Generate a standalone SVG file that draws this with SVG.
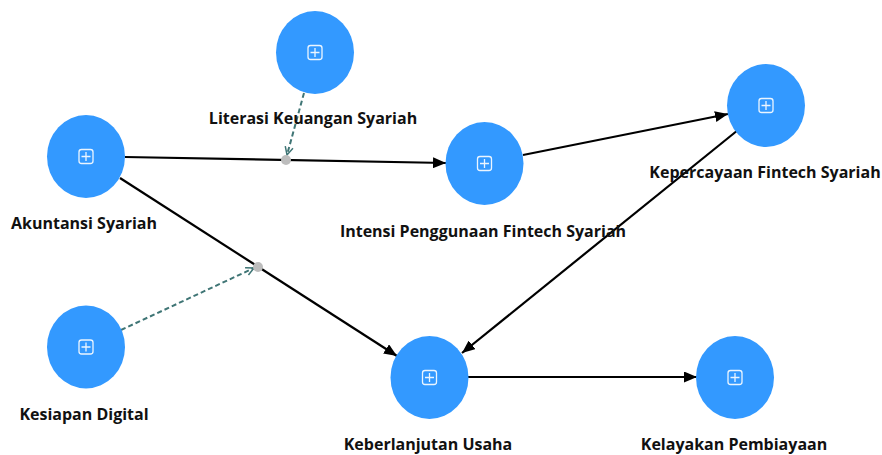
<svg xmlns="http://www.w3.org/2000/svg" width="882" height="455" viewBox="0 0 882 455">
<style>
.node ellipse{fill:#3399ff}
.icon{fill:none;stroke:#fff;stroke-width:1.3;opacity:0.9}
.lbl{font-family:"Open Sans","Noto Sans","DejaVu Sans",sans-serif;font-weight:bold;font-size:16px;fill:#111;text-anchor:middle}
.edge{stroke:#000;stroke-width:2.2;fill:none}
.mod{stroke:#3f7575;stroke-width:2;fill:none;stroke-dasharray:5 3}
.dot{fill:#bdbdbd}
</style>
<defs>
<marker id="ah" viewBox="0 0 13 11" refX="13" refY="5.5" markerWidth="13" markerHeight="11" markerUnits="userSpaceOnUse" orient="auto">
<path d="M0,0 L13,5.5 L0,11 Z" fill="#000"/>
</marker>
<marker id="oh" viewBox="0 0 10 10" refX="9" refY="5" markerWidth="10" markerHeight="10" markerUnits="userSpaceOnUse" orient="auto">
<path d="M1,1 L9,5 L1,9" fill="none" stroke="#3f7575" stroke-width="1.5"/>
</marker>
<g id="ic"><rect x="-7" y="-7" width="14" height="14" rx="2.5" class="icon"/><path d="M0,-4.5V4.5M-4.5,0H4.5" class="icon"/></g>
</defs>
<g id="connectors">
<line class="edge" x1="125" y1="157" x2="446" y2="163" marker-end="url(#ah)"/>
<line class="edge" x1="120" y1="178" x2="397" y2="356" marker-end="url(#ah)"/>
<line class="edge" x1="523" y1="155" x2="728" y2="114" marker-end="url(#ah)"/>
<line class="edge" x1="738" y1="130" x2="462" y2="353" marker-end="url(#ah)"/>
<line class="edge" x1="468" y1="377" x2="697" y2="377" marker-end="url(#ah)"/>
<line class="mod" x1="304" y1="93" x2="287" y2="155" marker-end="url(#oh)"/>
<line class="mod" x1="121" y1="330" x2="254" y2="268" marker-end="url(#oh)"/>
<circle class="dot" cx="286" cy="160" r="5"/>
<circle class="dot" cx="258" cy="267" r="5"/>
</g>
<g id="n-literasi" class="node"><ellipse cx="315" cy="52.5" rx="39" ry="41.5"/><use href="#ic" x="315" y="52.5"/><text class="lbl" x="313" y="124">Literasi Keuangan Syariah</text></g>
<g id="n-akuntansi" class="node"><ellipse cx="86" cy="156.5" rx="39" ry="41.5"/><use href="#ic" x="86" y="156.5"/><text class="lbl" x="84" y="229">Akuntansi Syariah</text></g>
<g id="n-kesiapan" class="node"><ellipse cx="86" cy="347" rx="39" ry="41.5"/><use href="#ic" x="86" y="347"/><text class="lbl" x="84" y="420">Kesiapan Digital</text></g>
<g id="n-intensi" class="node"><ellipse cx="484.5" cy="163.5" rx="39" ry="41.5"/><use href="#ic" x="484.5" y="163.5"/><text class="lbl" x="483" y="237">Intensi Penggunaan Fintech Syariah</text></g>
<g id="n-kepercayaan" class="node"><ellipse cx="766" cy="105.5" rx="39" ry="41.5"/><use href="#ic" x="766" y="105.5"/><text class="lbl" x="765" y="178">Kepercayaan Fintech Syariah</text></g>
<g id="n-keberlanjutan" class="node"><ellipse cx="429.5" cy="377.5" rx="39" ry="41.5"/><use href="#ic" x="429.5" y="377.5"/><text class="lbl" x="428" y="450">Keberlanjutan Usaha</text></g>
<g id="n-kelayakan" class="node"><ellipse cx="735" cy="377.5" rx="39" ry="41.5"/><use href="#ic" x="735" y="377.5"/><text class="lbl" x="734" y="450">Kelayakan Pembiayaan</text></g>
</svg>
